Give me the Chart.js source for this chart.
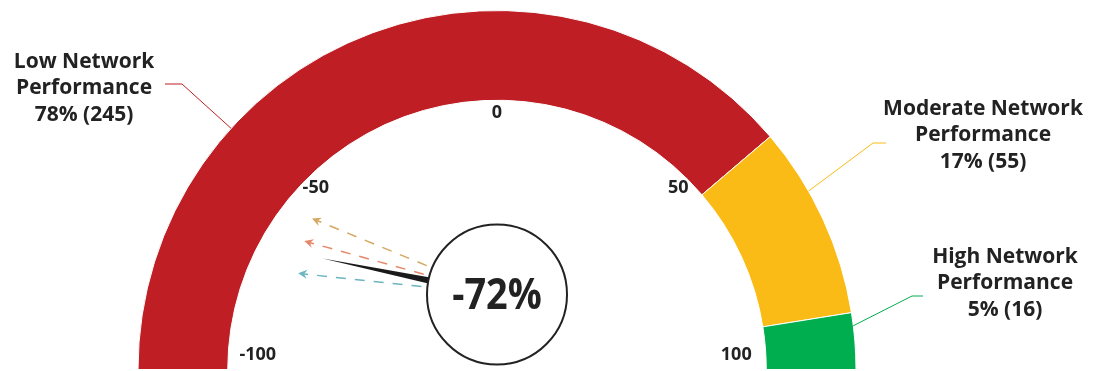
<!DOCTYPE html>
<html>
<head>
<meta charset="utf-8">
<script src="https://cdn.jsdelivr.net/npm/chart.js@4.4.0/dist/chart.umd.min.js"></script>
<style>
  html, body { margin: 0; padding: 0; background: #fff; }
  #wrap { position: relative; width: 1097px; height: 371px; }
</style>
</head>
<body>
<div id="wrap"><canvas id="gauge"></canvas></div>
<script>
  // datos del gauge
  var categorias = ['Low Network Performance', 'Moderate Network Performance', 'High Network Performance'];
  var cantidades = [245, 55, 16];
  var colores = ['#BE1E24', '#FBBB16', '#00AE4F'];
  var ticks = [-100, -50, 0, 50, 100];
  var valorActual = -72;
  var valoresPrevios = [-61, -68, -78];
  var coloresPrevios = ['#D6A763', '#E58868', '#6DB5C0'];

  var fuente = "'Open Sans', 'Noto Sans', sans-serif";

  // posicion de las etiquetas (solo layout)
  var etiquetasPos = [
    { ang: 137.8, codo: [182, 84], fin: [165, 84], tx: 84, ty: 62 },
    { ang: 29.8, codo: [873, 143], fin: [886, 143], tx: 983, ty: 109 },
    { ang: 7, codo: [912, 296], fin: [923, 296], tx: 1005, ty: 257 }
  ];

  function anguloValor(v) {
    var min = ticks[0], max = ticks[ticks.length - 1];
    return Math.PI - (v - min) / (max - min) * Math.PI;
  }

  // punto del valor sobre el centro de la banda
  function puntoValor(v, cx, cy, r) {
    var a = anguloValor(v);
    return [cx + Math.cos(a) * r, cy - Math.sin(a) * r];
  }

  function flecha(ctx, x0, y0, dx, dy, largo, color) {
    var x1 = x0 + dx * largo, y1 = y0 + dy * largo;
    ctx.save();
    ctx.strokeStyle = color;
    ctx.lineWidth = 1.5;
    ctx.setLineDash([10, 9]);
    ctx.beginPath();
    ctx.moveTo(x0, y0);
    ctx.lineTo(x1 - dx * 6, y1 - dy * 6);
    ctx.stroke();
    ctx.setLineDash([]);
    // punta
    var px = -dy, py = dx;
    ctx.fillStyle = color;
    ctx.beginPath();
    ctx.moveTo(x1, y1);
    ctx.lineTo(x1 - dx * 9 + px * 4.5, y1 - dy * 9 + py * 4.5);
    ctx.lineTo(x1 - dx * 6, y1 - dy * 6);
    ctx.lineTo(x1 - dx * 9 - px * 4.5, y1 - dy * 9 - py * 4.5);
    ctx.closePath();
    ctx.fill();
    ctx.restore();
  }

  var gaugeExtras = {
    id: 'gaugeExtras',
    afterDatasetsDraw: function(chart) {
      var ctx = chart.ctx;
      var arcos = chart.getDatasetMeta(0).data;
      var cx = arcos[0].x, cy = arcos[0].y;
      var rOut = arcos[0].outerRadius, rIn = arcos[0].innerRadius;
      var rMed = (rOut + rIn) / 2;
      var total = cantidades.reduce(function(a, b) { return a + b; }, 0);

      ctx.save();
      ctx.fillStyle = '#222';
      ctx.textAlign = 'center';
      ctx.textBaseline = 'middle';

      // etiquetas de la escala
      ctx.font = 'bold 18px ' + fuente;
      ticks.forEach(function(t, i) {
        var a = anguloValor(t);
        var extremo = (i === 0 || i === ticks.length - 1);
        var r = extremo ? rIn - 30 : rIn - 13;
        var x = cx + Math.cos(a) * r;
        var y = cy - Math.sin(a) * r - (extremo ? 15 : 0);
        ctx.fillText(String(t), x, y);
      });

      // etiquetas de categorias con lineas
      ctx.font = 'bold 21px ' + fuente;
      categorias.forEach(function(cat, i) {
        var p = etiquetasPos[i];
        var a = p.ang * Math.PI / 180;
        var ax = cx + Math.cos(a) * rOut, ay = cy - Math.sin(a) * rOut;
        ctx.strokeStyle = colores[i];
        ctx.lineWidth = 1;
        ctx.beginPath();
        ctx.moveTo(ax, ay);
        ctx.lineTo(p.codo[0], p.codo[1]);
        ctx.lineTo(p.fin[0], p.fin[1]);
        ctx.stroke();

        var partes = cat.split(' ');
        var lineas = [partes.slice(0, partes.length - 1).join(' '), partes[partes.length - 1],
          Math.round(cantidades[i] / total * 100) + '% (' + cantidades[i] + ')'];
        lineas.forEach(function(l, j) {
          ctx.fillText(l, p.tx, p.ty + j * 26.5);
        });
      });

      // aguja y flechas desde el circulo central
      var ccx = cx, ccy = cy - 75, rc = 70;
      function direccion(v) {
        var pt = puntoValor(v, cx, cy, rMed);
        var ddx = pt[0] - ccx, ddy = pt[1] - ccy;
        var d = Math.sqrt(ddx * ddx + ddy * ddy);
        return [ddx / d, ddy / d];
      }
      valoresPrevios.forEach(function(v, i) {
        var d = direccion(v);
        flecha(ctx, ccx, ccy, d[0], d[1], 200, coloresPrevios[i]);
      });

      var dn = direccion(valorActual);
      var dx = dn[0], dy = dn[1];
      ctx.fillStyle = '#1a1a1a';
      ctx.beginPath();
      ctx.moveTo(ccx + dx * 178, ccy + dy * 178);
      ctx.lineTo(ccx - dy * 5, ccy + dx * 5);
      ctx.lineTo(ccx + dy * 5, ccy - dx * 5);
      ctx.closePath();
      ctx.fill();

      ctx.beginPath();
      ctx.arc(ccx, ccy, rc, 0, Math.PI * 2);
      ctx.fillStyle = '#fff';
      ctx.fill();
      ctx.lineWidth = 2;
      ctx.strokeStyle = '#222';
      ctx.stroke();

      // texto central algo condensado
      ctx.fillStyle = '#222';
      ctx.font = 'bold 43px ' + fuente;
      ctx.translate(ccx, ccy + 2);
      ctx.scale(0.88, 1);
      ctx.fillText(valorActual + '%', 0, 0);
      ctx.restore();
    }
  };

  new Chart(document.getElementById('gauge').getContext('2d'), {
    type: 'doughnut',
    data: {
      labels: categorias,
      datasets: [{
        data: cantidades,
        backgroundColor: colores,
        borderColor: '#fff',
        borderWidth: 1
      }]
    },
    options: {
      responsive: true,
      maintainAspectRatio: false,
      animation: false,
      rotation: -90,
      circumference: 180,
      cutout: '75%',
      layout: { padding: { left: 137, right: 240, top: 10, bottom: 1 } },
      plugins: {
        legend: { display: false },
        tooltip: { enabled: false }
      }
    },
    plugins: [gaugeExtras]
  });
</script>
</body>
</html>
